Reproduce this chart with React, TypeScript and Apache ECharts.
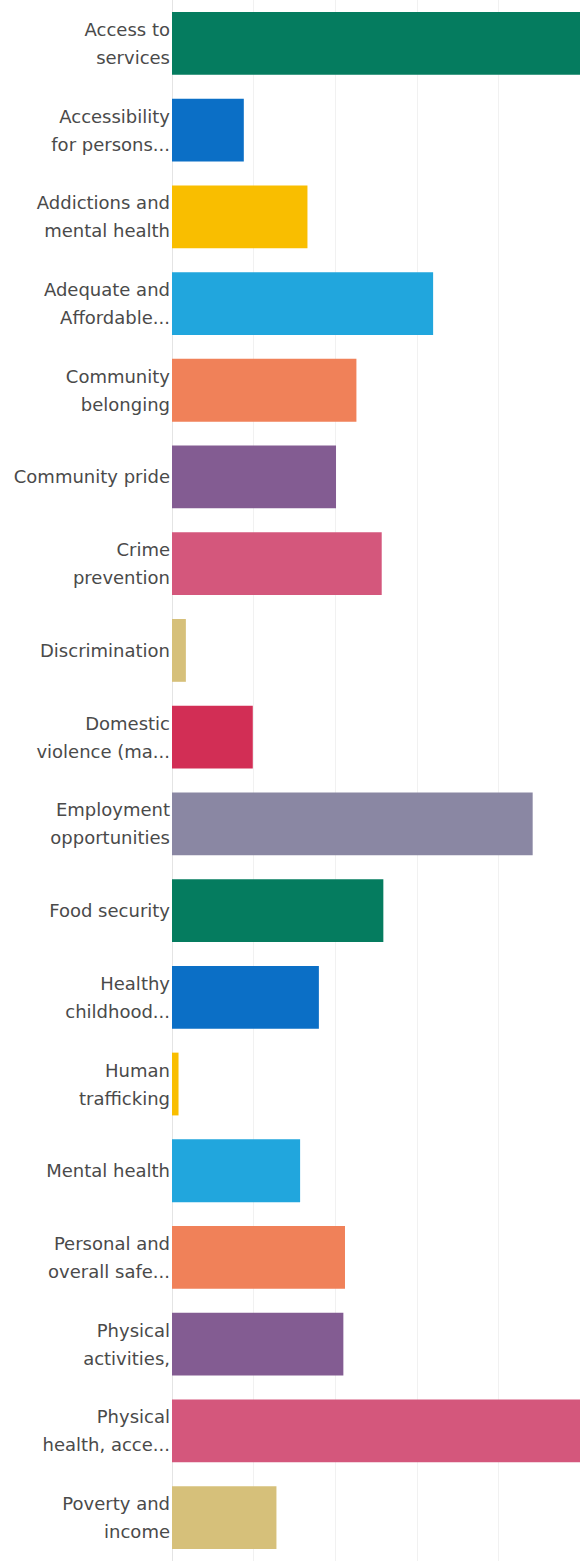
import React, { useEffect, useRef } from "react";
import * as echarts from "echarts";

const categories = [
  "Access to\nservices",
  "Accessibility\nfor persons...",
  "Addictions and\nmental health",
  "Adequate and\nAffordable...",
  "Community\nbelonging",
  "Community pride",
  "Crime\nprevention",
  "Discrimination",
  "Domestic\nviolence (ma...",
  "Employment\nopportunities",
  "Food security",
  "Healthy\nchildhood...",
  "Human\ntrafficking",
  "Mental health",
  "Personal and\noverall safe...",
  "Physical\nactivities,",
  "Physical\nhealth, acce...",
  "Poverty and\nincome",
];

const values = [
  52, 8.8, 16.6, 32.0, 22.6, 20.1, 25.7, 1.7, 9.9, 44.2, 25.9, 18.0, 0.8, 15.7, 21.2, 21.0, 52, 12.8,
];

const palette = [
  "#057c5f",
  "#0b6fc6",
  "#f9be00",
  "#21a6dd",
  "#f08159",
  "#835c92",
  "#d4577c",
  "#d6c07a",
  "#d22e55",
  "#8a87a3",
];

export default function App() {
  const ref = useRef<HTMLDivElement>(null);
  useEffect(() => {
    document.body.style.margin = "0";
    const chart = echarts.init(ref.current!, null, { renderer: "svg" });
    chart.setOption({
      animation: false,
      grid: { left: 172, top: 0, width: 415, height: 1567, containLabel: false },
      xAxis: {
        type: "value",
        min: 0,
        max: 50,
        interval: 10,
        axisLabel: { show: false },
        axisLine: { show: false },
        axisTick: { show: false },
        splitLine: { show: true, lineStyle: { color: "#f1f1f1", width: 1 } },
      },
      yAxis: {
        type: "category",
        inverse: true,
        data: categories,
        axisLine: { show: true, lineStyle: { color: "#e4e4e4", width: 1 } },
        axisTick: { show: false },
        axisLabel: {
          margin: 2,
          color: "#4a4a4a",
          fontFamily: "DejaVu Sans",
          fontSize: 18,
          lineHeight: 28,
          align: "right",
          padding: [3, 0, 0, 0],
        },
      },
      series: [
        {
          type: "bar",
          data: values.map((v, i) => ({
            value: v,
            itemStyle: { color: palette[i % palette.length] },
          })),
          barCategoryGap: "27.6%",
          clip: true,
        },
      ],
    });
    return () => chart.dispose();
  }, []);
  return <div ref={ref} style={{ width: 580, height: 1561 }} />;
}
